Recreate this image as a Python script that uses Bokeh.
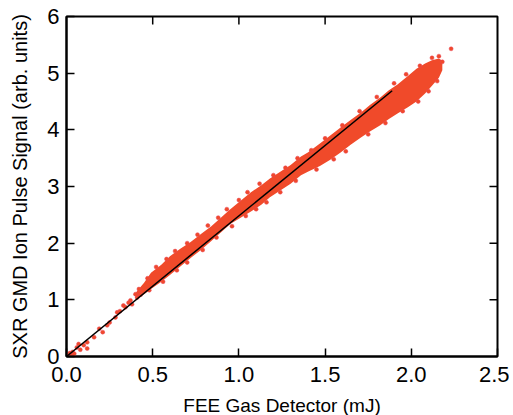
from bokeh.plotting import figure
from bokeh.models import FixedTicker, Range1d, PrintfTickFormatter
from bokeh.embed import file_html
from bokeh.resources import INLINE

# Dense core of the scatter (envelope of the point cloud)
band_x = [0.40, 0.45, 0.49, 0.55, 0.60, 0.66, 0.72, 0.78, 0.84, 0.90, 0.95, 1.01, 1.07,
          1.13, 1.18, 1.24, 1.30, 1.36, 1.40, 1.47, 1.53, 1.59, 1.65, 1.71, 1.76, 1.82,
          1.87, 1.92, 1.98, 2.03, 2.08, 2.12, 2.16, 2.18]
band_lo = [1.02, 1.10, 1.19, 1.32, 1.44, 1.59, 1.74, 1.88, 2.04, 2.20, 2.34, 2.45, 2.56,
           2.68, 2.81, 2.93, 3.05, 3.20, 3.26, 3.36, 3.47, 3.60, 3.74, 3.87, 3.97, 4.08,
           4.19, 4.29, 4.40, 4.50, 4.64, 4.78, 4.92, 5.05]
band_hi = [1.12, 1.30, 1.48, 1.62, 1.77, 1.90, 2.02, 2.16, 2.30, 2.46, 2.60, 2.75, 2.90,
           3.02, 3.14, 3.26, 3.38, 3.53, 3.60, 3.76, 3.90, 4.04, 4.18, 4.31, 4.44, 4.57,
           4.70, 4.80, 4.95, 5.08, 5.17, 5.23, 5.26, 5.22]

# Individual (sparse / edge) shots
pts_x = [0.005, 0.015, 0.02, 0.03, 0.035, 0.045, 0.06, 0.07, 0.08, 0.10, 0.12, 0.12, 0.16,
         0.19, 0.21, 0.236, 0.25, 0.284, 0.294, 0.31, 0.33, 0.342, 0.36, 0.371, 0.38,
         0.40, 0.41, 0.42, 0.43,
         0.47, 0.52, 0.58, 0.63, 0.70, 0.76, 0.82, 0.88, 0.93, 1.00, 1.05, 1.12, 1.20,
         1.27, 1.34, 1.42, 1.50, 1.60, 1.70, 1.80, 1.90, 1.97, 2.05, 2.12, 2.16, 2.18, 2.231,
         0.48, 0.56, 0.64, 0.70, 0.79, 0.87, 0.96, 1.04, 1.10, 1.16, 1.24, 1.33, 1.45,
         1.55, 1.62, 1.75, 1.85, 1.95, 2.04, 2.10, 2.15]
pts_y = [0.01, 0.03, 0.06, 0.02, 0.08, 0.05, 0.16, 0.22, 0.12, 0.20, 0.14, 0.25, 0.34,
         0.49, 0.43, 0.55, 0.60, 0.69, 0.78, 0.80, 0.90, 0.87, 0.95, 0.99, 0.92,
         1.10, 1.04, 1.19, 1.09,
         1.38, 1.58, 1.72, 1.86, 2.00, 2.15, 2.31, 2.45, 2.60, 2.76, 2.90, 3.05, 3.20,
         3.33, 3.50, 3.64, 3.85, 4.08, 4.33, 4.58, 4.82, 4.98, 5.13, 5.27, 5.30, 5.20, 5.43,
         1.17, 1.32, 1.52, 1.66, 1.88, 2.10, 2.30, 2.48, 2.60, 2.72, 2.90, 3.10, 3.30,
         3.48, 3.62, 3.92, 4.12, 4.33, 4.50, 4.68, 4.86]

# Linear fit
fit_x = [0.0, 1.889]
fit_y = [0.0, 4.69]

x_ticks = [0.0, 0.5, 1.0, 1.5, 2.0, 2.5]
y_ticks = [0, 1, 2, 3, 4, 5, 6]

FONT = "Liberation Sans"
RED = "#F04A2A"
FW, FH = 431, 340
XMAX, YMAX = 2.5, 6
TICK = 8

p = figure(frame_width=FW, frame_height=FH, output_backend="svg", toolbar_location=None,
           x_range=Range1d(0, XMAX), y_range=Range1d(0, YMAX),
           min_border_left=66, min_border_right=12, min_border_top=16, min_border_bottom=55,
           x_axis_label="FEE Gas Detector (mJ)",
           y_axis_label="SXR GMD Ion Pulse Signal (arb. units)")
p.grid.visible = False
p.outline_line_color = "black"
p.outline_line_width = 2
p.background_fill_color = "white"
p.border_fill_color = "white"

p.varea(x=band_x, y1=band_lo, y2=band_hi, fill_color=RED)
p.scatter(pts_x, pts_y, size=4, fill_color=RED, line_color="#E8445A", line_width=0.5)
p.line(fit_x, fit_y, line_color="black", line_width=1.5)

# inward ticks on the top and right frame edges
tx = x_ticks[1:-1]
p.segment(x0=tx, x1=tx, y0=[YMAX] * len(tx), y1=[YMAX - TICK * YMAX / FH] * len(tx),
          line_color="black", line_width=1.5)
ty = y_ticks[1:-1]
p.segment(x0=[XMAX] * len(ty), x1=[XMAX - TICK * XMAX / FW] * len(ty), y0=ty, y1=ty,
          line_color="black", line_width=1.5)

for ax, ticks in ((p.xaxis[0], x_ticks), (p.yaxis[0], y_ticks)):
    ax.ticker = FixedTicker(ticks=ticks)
    ax.minor_tick_line_color = None
    ax.major_tick_in = TICK
    ax.major_tick_out = 0
    ax.major_tick_line_width = 1.5
    ax.axis_line_width = 2
    ax.major_label_text_font = FONT
    ax.major_label_text_font_size = "22px"
    ax.major_label_text_color = "black"
    ax.axis_label_text_font = FONT
    ax.axis_label_text_font_style = "normal"
    ax.axis_label_text_color = "black"

p.xaxis[0].formatter = PrintfTickFormatter(format="%.1f")
p.xaxis[0].major_label_standoff = 10
p.xaxis[0].axis_label_standoff = 10
p.xaxis[0].axis_label_text_font_size = "19px"
p.yaxis[0].major_label_standoff = 7
p.yaxis[0].axis_label_standoff = 13
p.yaxis[0].axis_label_text_font_size = "20px"

open("out.html", "w").write(file_html(p, INLINE))
